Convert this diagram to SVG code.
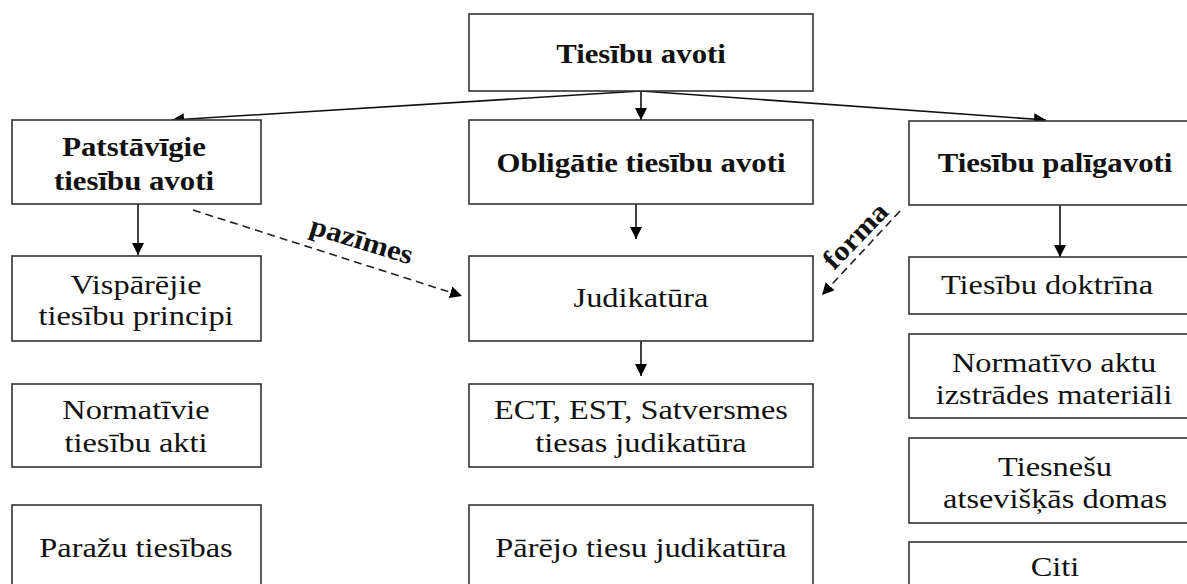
<svg xmlns="http://www.w3.org/2000/svg" width="1187" height="584" viewBox="0 0 1187 584">
<style>
  .box { fill: #fff; stroke: #333; stroke-width: 1.6; }
  .b { font-family: "Liberation Serif", "Times New Roman", serif; font-weight: bold; font-size: 28px; fill: #111; text-anchor: middle; }
  .r { font-family: "Liberation Serif", "Times New Roman", serif; font-size: 27px; fill: #111; text-anchor: middle; }
  .ln { fill: none; stroke: #111; stroke-width: 1.6; }
  .dash { fill: none; stroke: #222; stroke-width: 1.6; stroke-dasharray: 8 5; }
</style>
<defs>
  <marker id="ah" viewBox="0 0 12 12" refX="12" refY="6" markerWidth="12" markerHeight="12" markerUnits="userSpaceOnUse" orient="auto">
    <path d="M0,0 L12,6 L0,12 Z" fill="#000"/>
  </marker>
</defs>
<rect width="1187" height="584" fill="#fff"/>

<g id="connectors">
  <line class="ln" x1="641" y1="91" x2="172" y2="120" marker-end="url(#ah)"/>
  <line class="ln" x1="641" y1="91" x2="641" y2="120" marker-end="url(#ah)"/>
  <line class="ln" x1="641" y1="91" x2="1046" y2="120" marker-end="url(#ah)"/>
  <line class="ln" x1="138" y1="204" x2="138" y2="255" marker-end="url(#ah)"/>
  <line class="ln" x1="636" y1="204" x2="636" y2="239" marker-end="url(#ah)"/>
  <line class="ln" x1="1060" y1="205" x2="1060" y2="257" marker-end="url(#ah)"/>
  <line class="ln" x1="641" y1="341" x2="641" y2="376" marker-end="url(#ah)"/>
  <line class="dash" x1="193" y1="210" x2="462" y2="296" marker-end="url(#ah)"/>
  <line class="dash" x1="900" y1="211" x2="822" y2="295" marker-end="url(#ah)"/>
  <text class="b" transform="translate(359,249) rotate(17) scale(1.1,1)">pazīmes</text>
  <text class="b" transform="translate(862,242) rotate(-46) scale(1.1,1)">forma</text>
</g>

<g id="n-root">
  <rect class="box" x="469" y="14" width="344" height="77"/>
  <text class="b" transform="translate(641,63) scale(1.1,1)">Tiesību avoti</text>
</g>

<g id="n-patstavigie">
  <rect class="box" x="12" y="120" width="249" height="84"/>
  <text class="b" transform="translate(134,156) scale(1.1,1)">Patstāvīgie</text>
  <text class="b" transform="translate(134,190) scale(1.1,1)">tiesību avoti</text>
</g>
<g id="n-visparejie">
  <rect class="box" x="12" y="256" width="249" height="85"/>
  <text class="r" transform="translate(136,294) scale(1.2,1)">Vispārējie</text>
  <text class="r" transform="translate(136,325) scale(1.2,1)">tiesību principi</text>
</g>
<g id="n-normativie">
  <rect class="box" x="12" y="384" width="249" height="83"/>
  <text class="r" transform="translate(136,419) scale(1.2,1)">Normatīvie</text>
  <text class="r" transform="translate(136,452) scale(1.2,1)">tiesību akti</text>
</g>
<g id="n-parazu">
  <rect class="box" x="12" y="505" width="249" height="90"/>
  <text class="r" transform="translate(136,557) scale(1.2,1)">Paražu tiesības</text>
</g>

<g id="n-obligatie">
  <rect class="box" x="469" y="120" width="344" height="84"/>
  <text class="b" transform="translate(641,172) scale(1.1,1)">Obligātie tiesību avoti</text>
</g>
<g id="n-judikatura">
  <rect class="box" x="469" y="256" width="344" height="85"/>
  <text class="r" transform="translate(641,307) scale(1.2,1)">Judikatūra</text>
</g>
<g id="n-ect">
  <rect class="box" x="469" y="384" width="344" height="83"/>
  <text class="r" transform="translate(641,419) scale(1.2,1)">ECT, EST, Satversmes</text>
  <text class="r" transform="translate(641,452) scale(1.2,1)">tiesas judikatūra</text>
</g>
<g id="n-parejo">
  <rect class="box" x="469" y="505" width="344" height="90"/>
  <text class="r" transform="translate(641,557) scale(1.2,1)">Pārējo tiesu judikatūra</text>
</g>

<g id="n-paligavoti">
  <rect class="box" x="909" y="121" width="300" height="84"/>
  <text class="b" transform="translate(1055,172) scale(1.1,1)">Tiesību palīgavoti</text>
</g>
<g id="n-doktrina">
  <rect class="box" x="909" y="257" width="300" height="57"/>
  <text class="r" transform="translate(1047,294) scale(1.2,1)">Tiesību doktrīna</text>
</g>
<g id="n-izstrades">
  <rect class="box" x="909" y="334" width="300" height="84"/>
  <text class="r" transform="translate(1054,372) scale(1.2,1)">Normatīvo aktu</text>
  <text class="r" transform="translate(1054,404) scale(1.2,1)">izstrādes materiāli</text>
</g>
<g id="n-tiesnesu">
  <rect class="box" x="909" y="438" width="300" height="85"/>
  <text class="r" transform="translate(1055,476) scale(1.2,1)">Tiesnešu</text>
  <text class="r" transform="translate(1055,508) scale(1.2,1)">atsevišķās domas</text>
</g>
<g id="n-citi">
  <rect class="box" x="909" y="542" width="300" height="60"/>
  <text class="r" transform="translate(1055,576) scale(1.2,1)">Citi</text>
</g>
</svg>
